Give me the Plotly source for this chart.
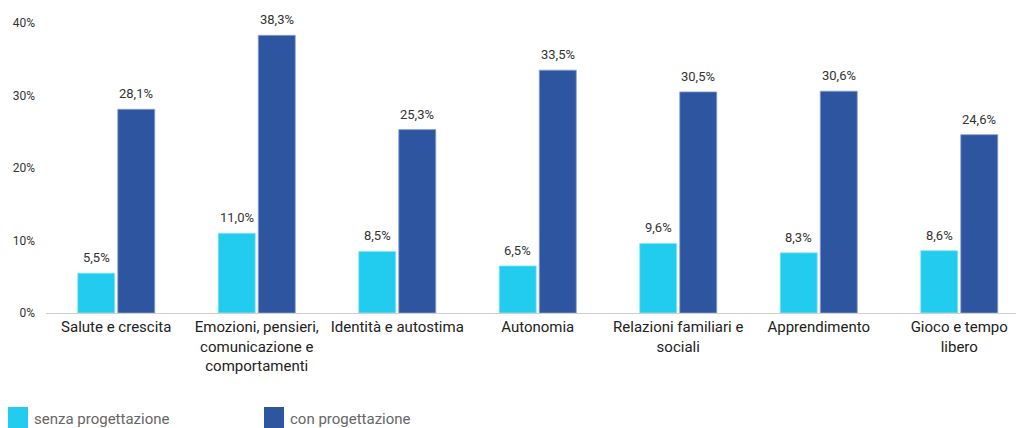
import plotly.graph_objects as go

categories = [
    "Salute e crescita",
    "Emozioni, pensieri,<br>comunicazione e<br>comportamenti",
    "Identità e autostima",
    "Autonomia",
    "Relazioni familiari e<br>sociali",
    "Apprendimento",
    "Gioco e tempo<br>libero",
]
senza = [5.5, 11.0, 8.5, 6.5, 9.6, 8.3, 8.6]
con = [28.1, 38.3, 25.3, 33.5, 30.5, 30.6, 24.6]
series_names = ["senza progettazione", "con progettazione"]
colors = ["#22CCEE", "#2E55A0"]
edge_colors = ["#8FE3F5", "#8EA5CF"]
y_ticks = [0, 10, 20, 30, 40]
y_tick_text = [f"{v}%" for v in y_ticks]

FONT = "Roboto, sans-serif"
W, H = 1016, 428
ML, MR, MT, MB = 46, 0, 23, 115


def px_to_paper_x(px):
    return (px - ML) / (W - ML - MR)


def px_to_paper_y(py):
    return (H - MB - py) / (H - MT - MB)


fig = go.Figure()
annotations = []
shapes = []
offsets = [-20, 20]
for k, (name, vals, col, edge) in enumerate(zip(series_names, [senza, con], colors, edge_colors)):
    fig.add_trace(go.Bar(
        x=categories, y=vals, name=name,
        marker=dict(color=col, line=dict(color=edge, width=0.8)),
        showlegend=False,
    ))
    # value labels above each bar
    for cat, v in zip(categories, vals):
        annotations.append(dict(
            x=cat, y=v, xref="x", yref="y", text=f"{v:.1f}%".replace(".", ","),
            showarrow=False, xshift=offsets[k], yshift=6, yanchor="bottom",
            font=dict(size=13, color="#333333", family=FONT),
        ))

# legend: coloured square followed by the series name
legend_x = [8, 264]
for name, col, lx in zip(series_names, colors, legend_x):
    shapes.append(dict(
        type="rect", xref="paper", yref="paper",
        x0=px_to_paper_x(lx), x1=px_to_paper_x(lx + 20),
        y0=px_to_paper_y(428), y1=px_to_paper_y(407),
        fillcolor=col, line=dict(width=0),
    ))
    annotations.append(dict(
        x=px_to_paper_x(lx + 24), y=px_to_paper_y(419), xref="paper", yref="paper",
        text=name, showarrow=False, xanchor="left", yanchor="middle",
        font=dict(size=15, color="#666666", family=FONT),
    ))

fig.update_layout(
    width=W, height=H,
    margin=dict(l=ML, r=MR, t=MT, b=MB, autoexpand=False),
    paper_bgcolor="white", plot_bgcolor="white",
    barmode="group", bargap=0.43, bargroupgap=0.075,
    font=dict(family=FONT, size=15, color="#222222"),
    xaxis=dict(
        range=[-0.5, 6.404], showline=True, linecolor="#D0D0D0", linewidth=1,
        ticks="", tickfont=dict(size=15, color="#222222"), showgrid=False,
        automargin=False,
    ),
    yaxis=dict(
        range=[0, 40], tickmode="array", tickvals=y_ticks, ticktext=y_tick_text,
        showgrid=False, zeroline=False, showline=False, ticks="",
        tickfont=dict(size=12, color="#333333"), automargin=False,
        ticklabelstandoff=10,
    ),
    showlegend=False,
    annotations=annotations,
    shapes=shapes,
)

fig.write_html("out.html")
